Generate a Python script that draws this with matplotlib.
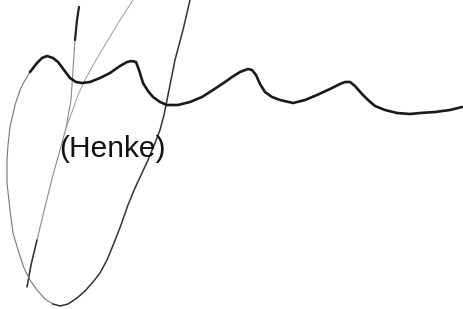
import matplotlib
matplotlib.use("Agg")
import matplotlib.pyplot as plt

# traced curves, in picture pixel units (x right, y down)
wave_x = [30, 37, 42, 47, 53, 58, 64, 70, 76, 82, 90, 100, 110, 120, 127, 132, 136, 139, 143, 148,
          153, 160, 167, 178, 190, 202, 213, 225, 232, 240, 248, 252, 256, 260, 265, 272, 280, 293,
          305, 317, 330, 340, 345, 350, 355, 362, 368, 375, 385, 397, 410, 420, 435, 450, 462]
wave_y = [72, 63, 58, 56, 58, 62, 70, 78, 82, 83, 82, 78, 73, 66, 62, 61, 62, 70, 83, 91,
          97, 102, 105, 105, 102, 97, 90, 82, 77, 72, 69, 70, 75, 84, 92, 97, 100, 103,
          100, 95, 89, 84, 82, 82, 86, 94, 100, 106, 110, 113, 114, 113, 112, 110, 107]

left_arm_x = [30, 24, 20, 15, 10, 8, 7, 7, 10, 13, 18, 24, 30, 37, 45, 53]
left_arm_y = [72, 82, 90, 105, 127, 145, 160, 183, 210, 233, 250, 268, 280, 290, 299, 304]

right_arm_x = [53, 60, 68, 77, 85, 93, 100, 107, 114, 121, 128, 135, 142, 148, 155, 160, 164, 167, 171, 175, 183, 190]
right_arm_y = [304, 306, 304, 298, 291, 282, 273, 260, 243, 225, 205, 188, 173, 160, 143, 130, 115, 100, 80, 60, 30, 0]

line_a_x = [79, 77, 75, 73, 71, 66, 60, 53, 45, 37, 31, 27]
line_a_y = [7, 20, 40, 70, 100, 128, 150, 175, 207, 240, 265, 287]

line_b_x = [133, 120, 108, 96, 85, 78, 72, 66]
line_b_y = [0, 20, 40, 60, 80, 95, 112, 128]

label = "(Henke)"

fig = plt.figure(figsize=(4.63, 3.09), dpi=100)
ax = fig.add_axes([0, 0, 1, 1])

ax.plot(line_b_x, line_b_y, color="#9a9a9a", lw=0.7, solid_capstyle="round")
ax.plot(line_a_x, line_a_y, color="#8a8a8a", lw=0.8, solid_capstyle="round")
ax.plot(line_a_x[:3], line_a_y[:3], color="#222222", lw=1.6, solid_capstyle="round")
ax.plot(line_a_x[-3:], line_a_y[-3:], color="#333333", lw=1.1, solid_capstyle="round")
ax.plot(left_arm_x, left_arm_y, color="#777777", lw=0.8, solid_joinstyle="round")
ax.plot(right_arm_x, right_arm_y, color="#333333", lw=1.1, solid_joinstyle="round")
ax.plot(wave_x, wave_y, color="#1a1a1a", lw=1.9, solid_joinstyle="round", solid_capstyle="round")

ax.text(112, 149, label, fontsize=21.5, family="Liberation Sans", ha="center", va="center", color="#111111")

ax.set_xlim(0, 463)
ax.set_ylim(309, 0)
ax.axis("off")

fig.savefig("out.png", dpi=100, facecolor="white")
